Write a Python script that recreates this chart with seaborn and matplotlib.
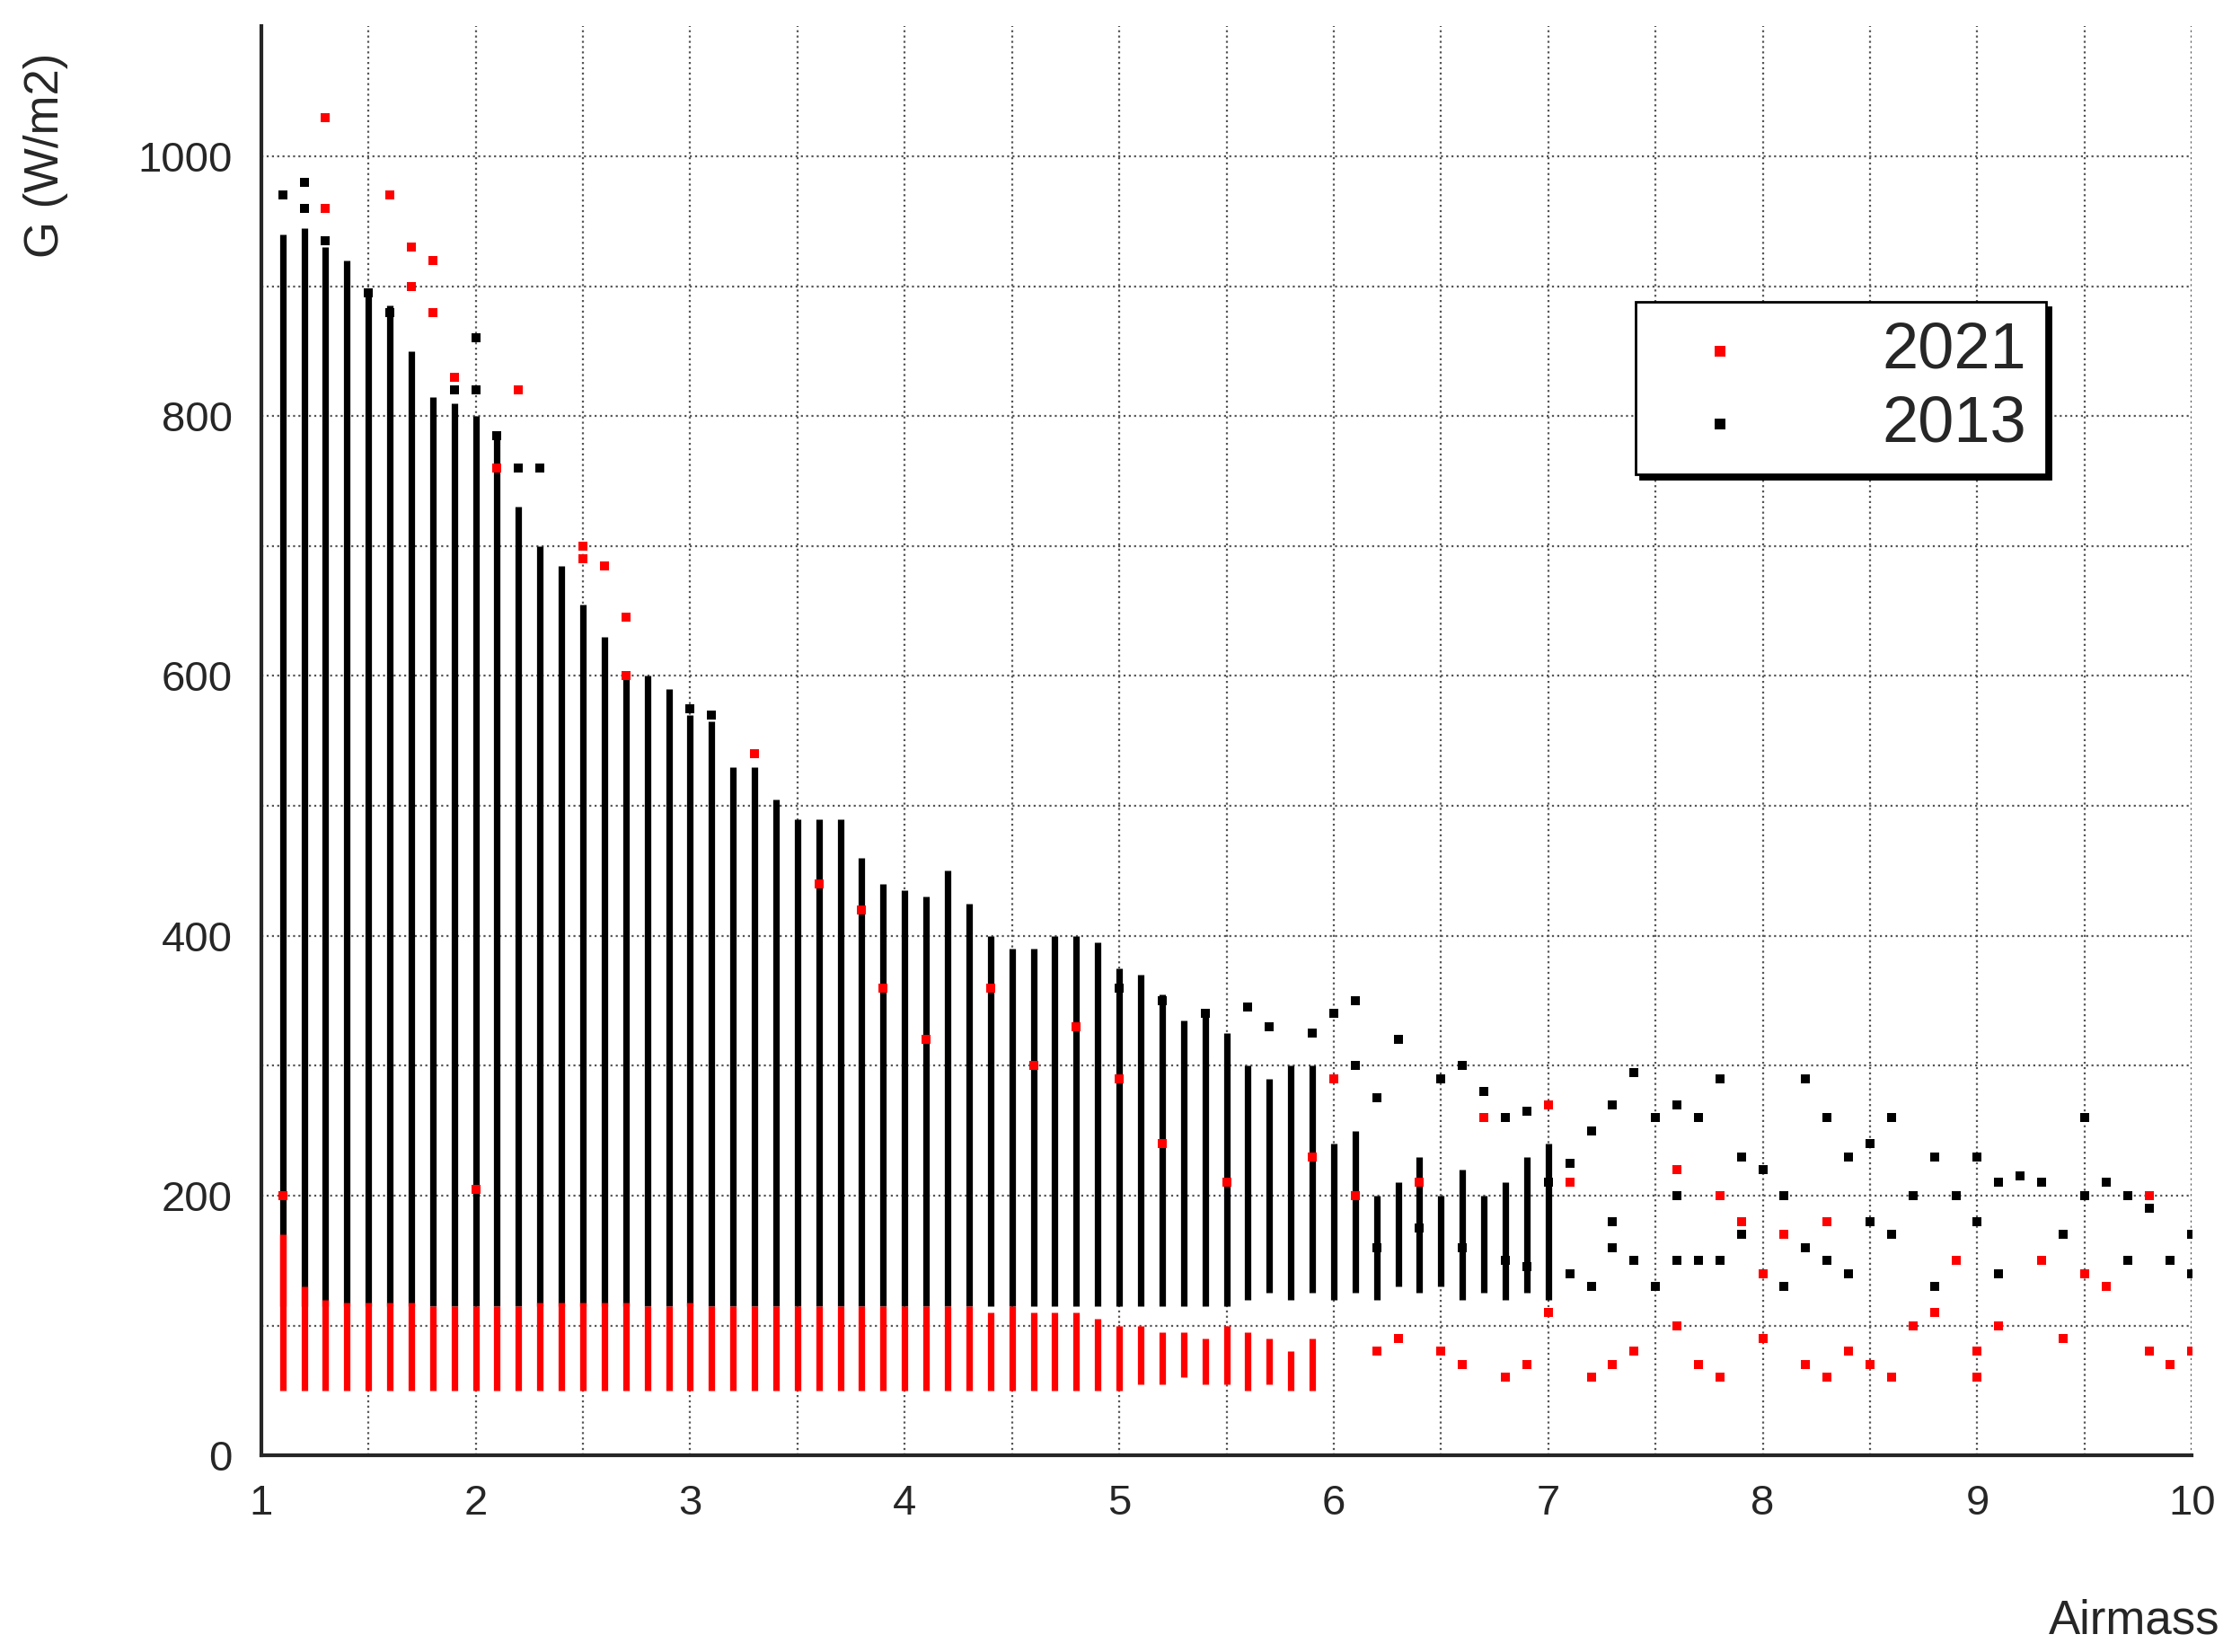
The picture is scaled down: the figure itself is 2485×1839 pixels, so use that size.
import numpy as np
import pandas as pd
import matplotlib
matplotlib.use("Agg")
import matplotlib.pyplot as plt
import seaborn as sns
from matplotlib.patches import Rectangle

sns.set_style("white")
plt.rcParams['font.family'] = ['Liberation Sans', 'DejaVu Sans']

# Dense columns of 2013 points (airmass, lowest G, highest G)
col_x = [1.1,1.2,1.3,1.4,1.5,1.6,1.7,1.8,1.9,2.0,2.1,2.2,2.3,2.4,2.5,2.6,2.7,2.8,2.9,3.0,
         3.1,3.2,3.3,3.4,3.5,3.6,3.7,3.8,3.9,4.0,4.1,4.2,4.3,4.4,4.5,4.6,4.7,4.8,4.9,5.0,
         5.1,5.2,5.3,5.4,5.5,5.6,5.7,5.8,5.9,6.0,6.1,6.2,6.3,6.4,6.5,6.6,6.7,6.8,6.9,7.0]
col_lo = [115]*45 + [120,125,120,125,120,125,120,130,125,130,120,125,120,125,120]
col_hi = [940,945,930,920,895,885,850,815,810,800,785,730,700,685,655,630,600,600,590,570,
          565,530,530,505,490,490,490,460,440,435,430,450,425,400,390,390,400,400,395,375,
          370,355,335,340,325,300,290,300,300,240,250,200,210,230,200,220,200,210,230,240]

# Dense red (2021) columns
red_x = [1.1,1.2,1.3,1.4,1.5,1.6,1.7,1.8,1.9,2.0,2.1,2.2,2.3,2.4,2.5,2.6,2.7,2.8,2.9,3.0,
         3.1,3.2,3.3,3.4,3.5,3.6,3.7,3.8,3.9,4.0,4.1,4.2,4.3,4.4,4.5,4.6,4.7,4.8,4.9,5.0,
         5.1,5.2,5.3,5.4,5.5,5.6,5.7,5.8,5.9]
red_lo = [50]*40 + [55,55,60,55,55,50,55,50,50]
red_hi = [170,130,120,118,118,118,118,115,115,115,115,115,118,118,118,118,118,115,115,118,
          115,115,115,115,115,115,115,115,115,115,115,115,115,110,115,110,110,110,105,100,
          100,95,95,90,100,95,90,80,90]

# Scattered 2013 points
blk_x = [1.1,1.2,1.2,1.3,1.5,1.6,1.9,2.0,2.0,2.1,2.2,2.3,3.0,3.1,5.0,5.2,5.4,5.6,5.7,5.9,
         6.0,6.1,6.1,6.2,6.3,6.5,6.6,6.7,6.8,6.9,7.0,7.0,7.1,7.1,7.2,7.2,7.3,7.3,7.4,7.4,
         7.5,7.5,7.6,7.6,7.7,7.7,7.8,7.8,7.9,7.9,8.0,8.0,8.1,8.1,8.2,8.2,8.3,8.3,8.4,8.4,
         8.5,8.5,8.6,8.6,8.7,8.8,8.8,8.9,8.9,9.0,9.0,9.1,9.1,9.2,9.3,9.4,9.5,9.5,9.6,9.7,
         9.7,9.8,9.9,10.0,10.0,6.2,6.4,6.6,6.8,6.9,7.3,7.6,7.8]
blk_y = [970,980,960,935,895,880,820,860,820,785,760,760,575,570,360,350,340,345,330,325,
         340,350,300,275,320,290,300,280,260,265,270,210,225,140,250,130,270,180,295,150,
         260,130,270,200,260,150,290,200,230,170,220,140,200,130,290,160,260,150,230,140,
         240,180,260,170,200,230,130,200,150,230,180,210,140,215,210,170,260,200,210,200,
         150,190,150,170,140,160,175,160,150,145,160,150,150]

# Scattered 2021 points
red_px = [1.3,1.3,1.6,1.7,1.7,1.8,1.8,1.9,2.2,2.1,2.5,2.5,2.6,2.7,2.7,1.1,2.0,3.6,3.9,4.1,
          4.6,4.8,5.0,5.2,5.5,6.0,6.1,6.2,6.3,6.5,6.6,6.7,6.8,6.9,7.0,7.0,7.1,7.2,7.3,7.4,
          7.6,7.6,7.7,7.8,7.8,7.9,8.0,8.0,8.1,8.2,8.3,8.3,8.4,8.5,8.6,8.7,8.8,8.9,9.0,9.0,
          9.1,9.3,9.4,9.5,9.6,9.8,9.8,9.9,10.0,3.3,3.8,4.4,5.9,6.4]
red_py = [1030,960,970,930,900,920,880,830,820,760,700,690,685,645,600,200,205,440,360,320,
          300,330,290,240,210,290,200,80,90,80,70,260,60,70,270,110,210,60,70,80,
          220,100,70,60,200,180,140,90,170,70,60,180,80,70,60,100,110,150,60,80,
          100,150,90,140,130,80,200,70,80,540,420,360,230,210]

fig = plt.figure(figsize=(12.425, 9.195), dpi=200)
ax = fig.add_axes([0.117, 0.119, 0.865, 0.865])

w = 2.6
ax.vlines(col_x, col_lo, col_hi, colors='black', linewidth=w * 1.0, zorder=2)
ax.vlines(red_x, red_lo, red_hi, colors='red', linewidth=w * 1.0, zorder=3)

dfb = pd.DataFrame({'x': blk_x, 'y': blk_y})
dfr = pd.DataFrame({'x': red_px, 'y': red_py})
sns.scatterplot(data=dfb, x='x', y='y', ax=ax, color='black', marker='s', s=14,
                linewidth=0, zorder=4, label='2013')
sns.scatterplot(data=dfr, x='x', y='y', ax=ax, color='red', marker='s', s=14,
                linewidth=0, zorder=5, label='2021')

ax.set_xlim(1, 10)
ax.set_ylim(0, 1100)
ax.set_xticks(range(1, 11))
ax.set_yticks(range(0, 1001, 200))
ax.set_xticks(np.arange(1.5, 10, 1.0), minor=True)
ax.set_yticks(range(100, 1100, 200), minor=True)
ax.grid(True, which='both', linestyle=':', color='#555555', linewidth=0.8)
ax.set_axisbelow(True)
for s in ['top', 'right']:
    ax.spines[s].set_visible(False)
for s in ['left', 'bottom']:
    ax.spines[s].set_linewidth(1.5)
ax.tick_params(which='major', direction='out', length=8, width=1.5, labelsize=17)
ax.tick_params(which='minor', direction='out', length=5, width=1.5)
ax.set_xlabel('Airmass', fontsize=19)
ax.xaxis.set_label_coords(0.97, -0.1)
ax.set_ylabel('G (W/m2)', fontsize=19)
ax.yaxis.set_label_coords(-0.1, 0.91)

handles, labels = ax.get_legend_handles_labels()
leg = ax.legend(handles[::-1], labels[::-1], loc='upper left', bbox_to_anchor=(0.695, 0.83),
                fontsize=26, frameon=True, fancybox=False, shadow={'color': 'black', 'alpha': 1},
                edgecolor='black', markerscale=1.2, handletextpad=1.5, borderpad=0.3,
                labelspacing=0.2)
leg.get_frame().set_linewidth(1.0)

fig.savefig('out.png', dpi=200)
